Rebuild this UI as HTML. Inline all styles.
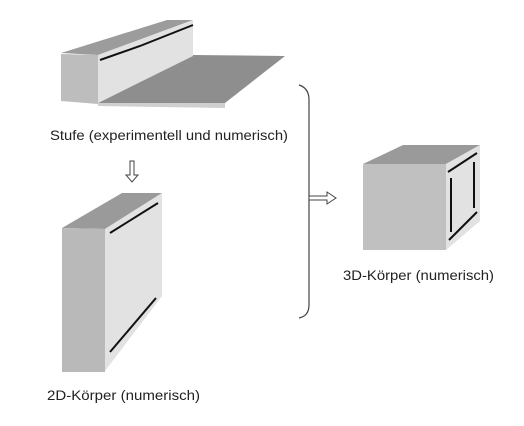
<!DOCTYPE html>
<html><head><meta charset="utf-8"><style>
html,body{margin:0;padding:0;background:#fff;}
svg{display:block;}
text{font-family:"Liberation Sans",sans-serif;font-size:14px;fill:#222;}
</style></head><body>
<svg width="524" height="426" viewBox="0 0 524 426">
<g>
<polygon points="98,103 193,55 285,56 225,103" fill="#8e8e8e"/>
<polygon points="98,103 225,103 225,108 98,106" fill="#cfcfcf"/>
<polygon points="61,53 98,55 193,20 167,20" fill="#9c9c9c"/>
<polygon points="61,54 98,55 98,104 61,101" fill="#bdbdbd"/>
<polygon points="98,55 193,20 193,56 98,103" fill="#e2e2e2"/>
<path d="M100,60 L140,46 L193,25" stroke="#111" stroke-width="2" fill="none"/>
</g>
<text x="50" y="140" textLength="238" lengthAdjust="spacingAndGlyphs">Stufe (experimentell und numerisch)</text>
<g>
<path d="M130,161 L134,161 L134,175 L138,175 L132,182 L126,175 L130,175 Z" fill="#fff" stroke="#444" stroke-width="1"/>
</g>
<g>
<polygon points="62,228 105,229 162,193 122,193" fill="#9a9a9a"/>
<polygon points="62,228 105,229 105,372 62,372" fill="#b9b9b9"/>
<polygon points="105,229 162,193 162,296 105,371" fill="#e2e2e2"/>
<path d="M110,233 L158,203" stroke="#111" stroke-width="2"/>
<path d="M110,352 L156,298" stroke="#111" stroke-width="2"/>
</g>
<text x="47" y="400" textLength="153" lengthAdjust="spacingAndGlyphs">2D-Körper (numerisch)</text>
<g>
<path d="M299,85 Q309,88 309,100 L309,305 Q309,316 299,318" stroke="#444" stroke-width="1.2" fill="none"/>
</g>
<g>
<path d="M309,196 L327,196 L327,192 L336,198 L327,204 L327,200 L309,200 Z" fill="#fff" stroke="#444" stroke-width="1"/>
</g>
<g>
<polygon points="363,164 446,164 480,145 403,145" fill="#9a9a9a"/>
<polygon points="363,164 446,164 446,250 363,250" fill="#c0c0c0"/>
<polygon points="446,164 480,145 480,221 446,250" fill="#e2e2e2"/>
<path d="M448,172 L477,153" stroke="#111" stroke-width="2"/>
<path d="M451,178 L451,232" stroke="#111" stroke-width="2"/>
<path d="M474,162 L474,208" stroke="#111" stroke-width="2"/>
<path d="M449,240 L477,212" stroke="#111" stroke-width="2"/>
</g>
<text x="343" y="280" textLength="151" lengthAdjust="spacingAndGlyphs">3D-Körper (numerisch)</text>
</svg>
</body></html>
